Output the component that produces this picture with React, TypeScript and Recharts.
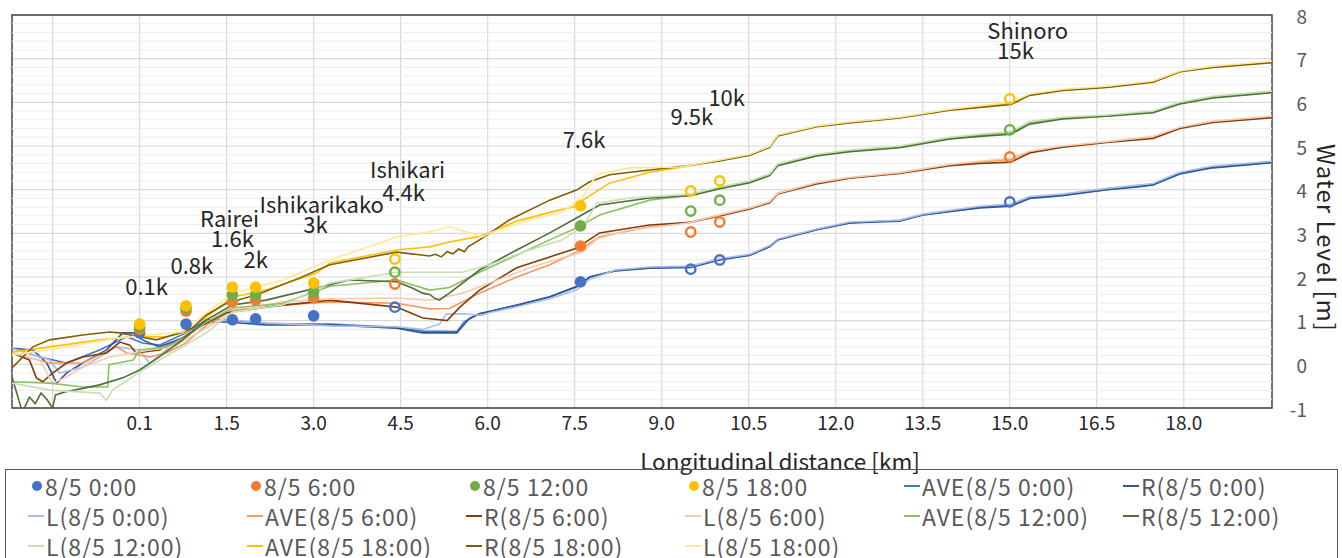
import React from "react";
import {
  ComposedChart,
  Line,
  Scatter,
  XAxis,
  YAxis,
  CartesianGrid,
  ReferenceLine,
  ReferenceArea,
  Label,
} from "recharts";

type Pt = [number, number];

const FONT = '"Noto Sans CJK JP", "Noto Sans", sans-serif';

// axes
const xTicks = [-1.5, 0, 1.5, 3, 4.5, 6, 7.5, 9, 10.5, 12, 13.5, 15, 16.5, 18];
const xTickLabels = ["", "0.1", "1.5", "3.0", "4.5", "6.0", "7.5", "9.0", "10.5", "12.0", "13.5", "15.0", "16.5", "18.0"];
const yTicks = [-1, 0, 1, 2, 3, 4, 5, 6, 7, 8];
const yMinor = [-0.8, -0.6, -0.4, -0.2, 0.2, 0.4, 0.6, 0.8, 1.2, 1.4, 1.6, 1.8, 2.2, 2.4, 2.6, 2.8, 3.2, 3.4, 3.6, 3.8, 4.2, 4.4, 4.6, 4.8, 5.2, 5.4, 5.6, 5.8, 6.2, 6.4, 6.6, 6.8, 7.2, 7.4, 7.6, 7.8];

// observation stations (km) and observed levels
const stationKm = [0, 0.8, 1.6, 2.0, 3.0, 4.4, 7.6, 9.5, 10.0, 15.0];
const stationFilled = [true, true, true, true, true, false, true, false, false, false];
const obs0000 = [0.72, 0.92, 1.02, 1.04, 1.11, 1.31, 1.89, 2.18, 2.39, 3.72];
const obs0600 = [0.8, 1.22, 1.43, 1.47, 1.52, 1.84, 2.71, 3.03, 3.26, 4.75];
const obs1200 = [0.85, 1.29, 1.59, 1.59, 1.66, 2.11, 3.17, 3.51, 3.76, 5.37];
const obs1800 = [0.92, 1.34, 1.77, 1.77, 1.86, 2.41, 3.63, 3.97, 4.2, 6.08];

// station name labels
const noteText = ["0.1k", "0.8k", "Rairei", "1.6k", "2k", "Ishikarikako", "3k", "Ishikari", "4.4k", "7.6k", "9.5k", "10k", "Shinoro", "15k"];
const noteKm = [0.12, 0.9, 1.55, 1.6, 2.0, 3.14, 3.03, 4.62, 4.55, 7.66, 9.52, 10.12, 15.31, 15.1];
const noteLevel = [1.82, 2.3, 3.37, 2.92, 2.44, 3.69, 3.24, 4.5, 3.97, 5.18, 5.71, 6.15, 7.68, 7.22];

// simulated water surface profiles [km, level]
const ave0000: Pt[] = [[-2.2,0.37],[-1.72,0.17],[-1.26,0.03],[-0.69,0.33],[-0.22,0.63],[0.05,0.49],[0.34,0.44],[0.8,0.72],[1.15,1.02],[1.5,1.02],[2.18,0.93],[3.28,0.92],[4.43,0.85],[4.88,0.76],[5.47,0.75],[5.6,0.98],[5.86,1.16],[6.5,1.36],[7.07,1.54],[7.53,1.77],[7.76,2.0],[8.2,2.15],[8.79,2.21],[9.5,2.24],[10.0,2.4],[10.52,2.5],[10.86,2.7],[11.0,2.86],[11.67,3.08],[12.24,3.24],[13.1,3.3],[13.5,3.42],[14.48,3.6],[15.02,3.65],[15.34,3.82],[15.91,3.88],[16.67,4.0],[17.47,4.12],[17.93,4.38],[18.5,4.52],[19.52,4.63]];
const r0000: Pt[] = [[-2.2,0.37],[-1.84,0.33],[-1.6,0.03],[-1.43,-0.43],[-1.26,-0.2],[-0.98,0.03],[-0.57,0.33],[-0.29,0.72],[-0.11,0.72],[0.05,0.56],[0.34,0.4],[0.8,0.63],[1.15,0.97],[1.5,0.97],[2.18,0.9],[3.28,0.9],[4.43,0.83],[4.88,0.72],[5.47,0.72],[5.69,1.06],[5.86,1.16],[6.5,1.35],[7.07,1.55],[7.53,1.78],[7.76,2.0],[8.2,2.14],[8.79,2.2],[9.5,2.22],[10.0,2.39],[10.52,2.5],[10.86,2.69],[11.0,2.85],[11.67,3.08],[12.24,3.24],[13.1,3.28],[13.5,3.42],[14.48,3.58],[15.02,3.62],[15.34,3.8],[15.91,3.86],[16.67,4.0],[17.2,4.06],[17.47,4.11],[17.93,4.36],[18.5,4.5],[19.52,4.62]];
const l0000: Pt[] = [[-2.2,0.37],[-1.55,0.1],[-1.38,-0.2],[-0.98,-0.06],[-0.4,0.4],[0,0.33],[0.17,0.03],[0.46,0.33],[0.8,0.63],[1.15,0.97],[1.5,1.02],[2.18,0.95],[3.28,0.88],[4.43,0.86],[4.88,0.8],[5.17,0.92],[5.29,1.15],[5.6,1.16],[5.9,1.12],[6.03,1.18],[6.5,1.32],[7.07,1.5],[7.53,1.7],[7.76,1.95],[8.2,2.16],[8.79,2.23],[9.5,2.25],[10.0,2.42],[10.52,2.52],[10.86,2.72],[11.0,2.87],[11.67,3.1],[12.24,3.26],[13.1,3.3],[13.5,3.44],[14.48,3.62],[15.02,3.67],[15.34,3.84],[15.91,3.9],[16.67,4.03],[17.47,4.14],[17.93,4.4],[18.5,4.54],[19.52,4.65]];

const ave0600: Pt[] = [[-2.2,0.26],[-1.55,0.03],[-0.98,0.03],[-0.52,0.33],[-0.4,0.4],[-0.22,0.26],[0.17,0.17],[0.46,0.26],[0.8,0.49],[1.15,0.9],[1.6,1.24],[2.47,1.36],[3.28,1.43],[4.43,1.4],[5.0,1.27],[5.34,1.28],[5.86,1.63],[6.5,2.0],[7.07,2.28],[7.53,2.57],[7.93,2.92],[8.79,3.15],[9.5,3.26],[10.0,3.42],[10.52,3.58],[10.86,3.72],[11.0,3.92],[11.67,4.15],[12.24,4.27],[13.1,4.38],[13.97,4.57],[14.48,4.63],[15.02,4.7],[15.34,4.86],[15.91,4.98],[16.67,5.09],[17.47,5.2],[17.93,5.41],[18.5,5.55],[19.52,5.66]];
const r0600: Pt[] = [[-2.2,0.26],[-1.9,0.1],[-1.78,-0.31],[-1.67,-0.4],[-1.5,-0.2],[-1.26,0.03],[-0.98,0.17],[-0.57,0.26],[-0.34,0.51],[-0.17,0.44],[-0.06,0.26],[0.34,0.33],[0.69,0.56],[1.03,0.86],[1.5,1.18],[2.18,1.31],[3.28,1.47],[4.43,1.31],[4.88,1.06],[5.17,1.02],[5.3,1.0],[5.52,1.31],[5.86,1.7],[6.5,2.21],[7.07,2.46],[7.53,2.66],[7.93,3.01],[8.79,3.19],[9.5,3.25],[10.0,3.4],[10.52,3.56],[10.86,3.7],[11.0,3.9],[11.67,4.13],[12.24,4.26],[13.1,4.37],[13.97,4.55],[14.48,4.6],[15.02,4.63],[15.34,4.84],[15.91,4.97],[16.67,5.08],[17.47,5.17],[17.93,5.4],[18.5,5.54],[19.52,5.65]];
const l0600: Pt[] = [[-2.2,0.26],[-1.72,0.1],[-1.5,-0.43],[-1.26,-0.29],[-0.98,-0.06],[-0.52,0.17],[-0.11,0.26],[0.17,0.33],[0.57,0.4],[1.03,0.74],[1.6,1.18],[2.47,1.43],[3.28,1.5],[4.43,1.52],[5.0,1.47],[5.57,1.63],[6.03,1.86],[6.72,2.21],[7.29,2.44],[7.64,2.57],[7.88,2.87],[8.45,3.08],[9.31,3.21],[9.5,3.25],[10.0,3.42],[10.52,3.58],[10.86,3.72],[11.0,3.92],[11.67,4.16],[12.24,4.28],[13.1,4.39],[13.97,4.58],[14.48,4.65],[15.02,4.72],[15.34,4.88],[15.91,5.0],[16.67,5.1],[17.47,5.22],[17.93,5.43],[18.5,5.57],[19.52,5.68]];

const ave1200: Pt[] = [[-2.2,-0.4],[-1.55,-0.43],[-0.98,-0.52],[-0.55,-0.52],[-0.53,-0.01],[-0.11,0.1],[0,0.33],[0.46,0.4],[0.8,0.63],[1.15,0.97],[1.6,1.29],[2.47,1.4],[3.28,1.79],[4.43,1.93],[5.0,1.7],[5.34,1.76],[5.86,2.11],[6.5,2.5],[7.07,2.85],[7.53,3.12],[7.93,3.42],[8.79,3.76],[9.5,3.88],[10.0,4.04],[10.52,4.18],[10.86,4.34],[11.0,4.57],[11.67,4.79],[12.24,4.89],[13.1,4.98],[13.97,5.18],[14.48,5.25],[15.02,5.3],[15.34,5.53],[15.91,5.64],[16.67,5.69],[17.47,5.78],[17.93,5.98],[18.5,6.12],[19.52,6.24]];
const r1200: Pt[] = [[-2.2,-0.29],[-2.02,-1.1],[-1.9,-0.75],[-1.8,-0.9],[-1.7,-0.66],[-1.6,-0.8],[-1.5,-1.0],[-1.45,-0.7],[-1.26,-0.62],[-0.98,-0.55],[-0.69,-0.47],[-0.29,-0.31],[0,-0.13],[0.34,0.17],[0.74,0.56],[1.15,1.02],[1.6,1.36],[2.18,1.47],[3.62,1.93],[4.43,1.89],[4.7,1.75],[4.88,1.63],[5.0,1.6],[5.1,1.5],[5.17,1.47],[5.25,1.55],[5.34,1.63],[5.86,2.16],[6.5,2.62],[7.07,3.01],[7.53,3.35],[7.93,3.65],[8.79,3.81],[9.5,3.86],[10.0,4.02],[10.52,4.16],[10.86,4.32],[11.0,4.55],[11.67,4.77],[12.24,4.87],[13.1,4.96],[13.97,5.16],[14.48,5.22],[15.02,5.27],[15.34,5.5],[15.91,5.62],[16.67,5.68],[17.47,5.76],[17.93,5.96],[18.5,6.1],[19.52,6.22]];
const l1200: Pt[] = [[-2.2,-0.43],[-1.55,-0.59],[-0.69,-0.66],[-0.57,-0.82],[-0.47,-0.59],[0,-0.18],[0.34,0.1],[0.74,0.4],[1.15,0.72],[1.6,1.2],[2.47,1.36],[3.28,1.86],[4.43,2.11],[5.57,2.11],[6.03,2.28],[6.72,2.62],[7.29,2.85],[7.64,3.15],[7.88,3.69],[8.45,3.81],[9.31,3.88],[9.5,3.9],[10.0,4.06],[10.52,4.2],[10.86,4.36],[11.0,4.59],[11.67,4.81],[12.24,4.91],[13.1,5.0],[13.97,5.2],[14.48,5.27],[15.02,5.33],[15.34,5.56],[15.91,5.66],[16.67,5.71],[17.47,5.8],[17.93,6.0],[18.5,6.14],[19.52,6.26]];

const ave1800: Pt[] = [[-2.2,0.28],[-1.55,0.4],[-0.69,0.56],[-0.11,0.63],[0.46,0.63],[0.8,0.74],[1.15,1.08],[1.6,1.54],[2.18,1.7],[3.05,2.09],[3.28,2.32],[4.43,2.62],[5.0,2.69],[5.34,2.8],[5.86,2.93],[6.5,3.28],[7.07,3.48],[7.53,3.62],[7.64,3.76],[8.1,4.15],[8.79,4.4],[9.5,4.55],[10.0,4.67],[10.52,4.8],[10.86,4.98],[11.0,5.24],[11.67,5.45],[12.24,5.54],[13.1,5.65],[13.97,5.83],[14.48,5.9],[15.02,5.98],[15.34,6.17],[15.91,6.28],[16.67,6.35],[17.47,6.47],[17.93,6.7],[18.5,6.81],[19.52,6.92]];
const r1800: Pt[] = [[-2.2,-0.08],[-1.84,0.4],[-1.55,0.56],[-0.98,0.67],[-0.52,0.74],[-0.34,0.72],[0,0.63],[0.29,0.56],[0.69,0.72],[0.91,0.83],[1.15,1.13],[1.5,1.4],[2.01,1.59],[2.76,1.98],[3.28,2.28],[4.43,2.57],[5.0,2.48],[5.1,2.52],[5.2,2.46],[5.3,2.58],[5.4,2.53],[5.5,2.64],[5.6,2.58],[5.66,2.69],[5.86,2.85],[6.38,3.31],[7.07,3.76],[7.53,3.99],[7.76,4.18],[8.1,4.34],[8.79,4.45],[9.5,4.56],[10.0,4.66],[10.52,4.79],[10.86,4.97],[11.0,5.23],[11.67,5.44],[12.24,5.53],[13.1,5.64],[13.97,5.82],[14.48,5.88],[15.02,5.95],[15.34,6.16],[15.91,6.27],[16.67,6.34],[17.47,6.46],[17.93,6.7],[18.5,6.8],[19.52,6.91]];
const l1800: Pt[] = [[-2.2,0.21],[-1.26,0.4],[-0.4,0.6],[0.17,0.67],[0.74,0.74],[1.15,1.18],[1.6,1.63],[2.47,1.93],[3.28,2.39],[4.14,2.78],[4.43,2.92],[5.0,3.03],[5.34,3.15],[5.91,2.92],[6.03,3.01],[6.72,3.31],[7.29,3.49],[7.64,3.83],[7.88,4.34],[8.45,4.5],[9.31,4.52],[9.5,4.56],[10.0,4.68],[10.52,4.81],[10.86,4.99],[11.0,5.25],[11.67,5.46],[12.24,5.55],[13.1,5.66],[13.97,5.84],[14.48,5.92],[15.02,6.0],[15.34,6.19],[15.91,6.3],[16.67,6.37],[17.47,6.49],[17.93,6.72],[18.5,6.83],[19.52,6.94]];

const obsSeries = [
  { name: "8/5 0:00", color: "#4472C4", levels: obs0000 },
  { name: "8/5 6:00", color: "#ED7D31", levels: obs0600 },
  { name: "8/5 12:00", color: "#70AD47", levels: obs1200 },
  { name: "8/5 18:00", color: "#FFC000", levels: obs1800 },
];

const lineSeries = [
  { name: "AVE(8/5 0:00)", color: "#4472C4", pts: ave0000 },
  { name: "R(8/5 0:00)", color: "#2F5597", pts: r0000 },
  { name: "L(8/5 0:00)", color: "#A9BEE6", pts: l0000 },
  { name: "AVE(8/5 6:00)", color: "#F19A62", pts: ave0600 },
  { name: "R(8/5 6:00)", color: "#843C0C", pts: r0600 },
  { name: "L(8/5 6:00)", color: "#F8CBAD", pts: l0600 },
  { name: "AVE(8/5 12:00)", color: "#8CC168", pts: ave1200 },
  { name: "R(8/5 12:00)", color: "#4F6F35", pts: r1200 },
  { name: "L(8/5 12:00)", color: "#C5E0B4", pts: l1200 },
  { name: "AVE(8/5 18:00)", color: "#FFC000", pts: ave1800 },
  { name: "R(8/5 18:00)", color: "#7F6000", pts: r1800 },
  { name: "L(8/5 18:00)", color: "#FFE699", pts: l1800 },
];

const toRows = (pts: Pt[]) => pts.map(([km, level]) => ({ km, level }));
const obsRows = (levels: number[], filled: boolean) =>
  stationKm
    .map((km, i) => ({ km, level: levels[i], filled: stationFilled[i] }))
    .filter((d) => d.filled === filled);
const notes = noteText.map((text, i) => ({ text, km: noteKm[i], level: noteLevel[i] }));

const YTick = (props: any) => {
  const { x, y, payload } = props;
  return (
    <text x={x + 35} y={y} textAnchor="end" dominantBaseline="central" fontSize={19} fill="#595959" fontFamily={FONT}>
      {payload.value}
    </text>
  );
};

const Legend = () => {
  const items = [
    ...obsSeries.map((s) => ({ name: s.name, color: s.color, dot: true })),
    ...lineSeries.map((s) => ({ name: s.name, color: s.color, dot: false })),
  ];
  return (
    <div
      style={{
        position: "absolute",
        left: 5,
        top: 469,
        width: 1333,
        height: 100,
        border: "1.5px solid #595959",
        boxSizing: "border-box",
        display: "grid",
        gridTemplateColumns: "repeat(6, 219px)",
        gridAutoRows: "30px",
        paddingLeft: 20,
        paddingTop: 1,
        fontFamily: FONT,
        fontSize: 23,
        lineHeight: "24px",
        letterSpacing: 1,
        color: "#595959",
      }}
    >
      {items.map((it) => (
        <div key={it.name} style={{ display: "flex", alignItems: "center" }}>
          {it.dot ? (
            <span style={{ display: "inline-block", width: 10, height: 10, borderRadius: 5, background: it.color, marginLeft: 6, marginRight: 3 }} />
          ) : (
            <span style={{ display: "inline-block", width: 16, height: 2, background: it.color, marginLeft: 2, marginRight: 2 }} />
          )}
          <span style={{ whiteSpace: "nowrap" }}>{it.name}</span>
        </div>
      ))}
    </div>
  );
};

export default function App() {
  return (
    <div style={{ position: "absolute", left: 0, top: 0, width: 1342, height: 558, background: "#fff", overflow: "hidden" }}>
      <ComposedChart width={1342} height={558} margin={{ top: 15, right: 0, left: 12, bottom: 0 }}>
        {yMinor.map((v) => (
          <ReferenceLine key={`m${v}`} y={v} stroke="#ededed" strokeWidth={1} />
        ))}
        <CartesianGrid stroke="#d9d9d9" strokeWidth={1.2} />
        <XAxis
          dataKey="km"
          type="number"
          domain={[-2.2, 19.52]}
          allowDataOverflow
          ticks={xTicks}
          interval={0}
          tickFormatter={(v: number) => xTickLabels[xTicks.indexOf(v)] ?? ""}
          tickLine={false}
          axisLine={false}
          tickSize={0}
          tickMargin={9}
          height={150}
          tick={{ fontSize: 19, fill: "#262626", fontFamily: FONT }}
        >
          <Label
            content={() => (
              <text x={780} y={460} textAnchor="middle" dominantBaseline="central" fontSize={22.5} fill="#262626" fontFamily={FONT}>
                Longitudinal distance [km]
              </text>
            )}
          />
        </XAxis>
        <YAxis
          orientation="right"
          type="number"
          domain={[-1, 8]}
          allowDataOverflow
          ticks={yTicks}
          interval={0}
          width={70}
          tickLine={false}
          axisLine={false}
          tickSize={0}
          tickMargin={0}
          tick={<YTick />}
        >
          <Label
            content={() => (
              <text
                x={1327}
                y={238}
                textAnchor="middle"
                dominantBaseline="central"
                fontSize={24}
                letterSpacing={1}
                fill="#262626"
                fontFamily={FONT}
                transform="rotate(90 1327 238)"
              >
                Water Level [m]
              </text>
            )}
          />
        </YAxis>
        <ReferenceArea x1={-2.2} x2={19.52} y1={-1} y2={8} fill="none" stroke="#404040" strokeWidth={1.4} />
        {lineSeries.map((s) => (
          <Line
            key={s.name}
            data={toRows(s.pts)}
            dataKey="level"
            name={s.name}
            type="linear"
            stroke={s.color}
            strokeWidth={1.6}
            dot={false}
            activeDot={false}
            isAnimationActive={false}
          />
        ))}
        {obsSeries.map((s) => (
          <Scatter
            key={`o-${s.name}`}
            data={obsRows(s.levels, false)}
            dataKey="level"
            isAnimationActive={false}
            shape={(p: any) => <circle cx={p.cx} cy={p.cy} r={4.7} fill="none" stroke={s.color} strokeWidth={2.4} />}
          />
        ))}
        {obsSeries.map((s) => (
          <Scatter
            key={`f-${s.name}`}
            name={s.name}
            data={obsRows(s.levels, true)}
            dataKey="level"
            isAnimationActive={false}
            shape={(p: any) => <circle cx={p.cx} cy={p.cy} r={5.8} fill={s.color} />}
          />
        ))}
        <Scatter
          data={notes}
          dataKey="level"
          isAnimationActive={false}
          shape={(p: any) => (
            <text x={p.cx} y={p.cy} textAnchor="middle" dominantBaseline="central" fontSize={22} fill="#262626" fontFamily={FONT}>
              {p.payload.text}
            </text>
          )}
        />
      </ComposedChart>
      <Legend />
    </div>
  );
}
